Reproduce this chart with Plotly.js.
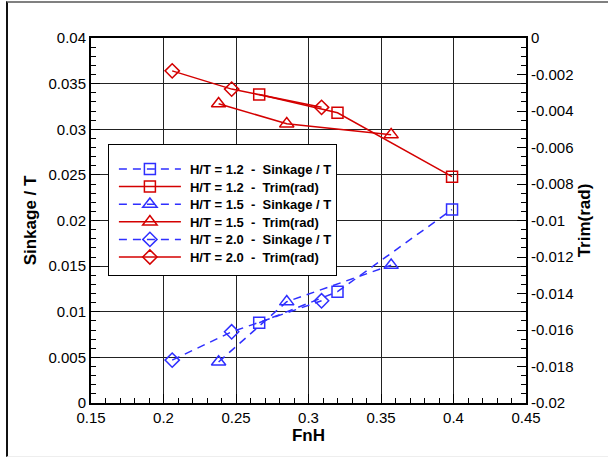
<!DOCTYPE html>
<html>
<head>
<meta charset="utf-8">
<script src="https://cdn.plot.ly/plotly-3.0.1.min.js"></script>
<style>
  html, body { margin: 0; padding: 0; background: #fff; }
  #wrap { position: relative; width: 608px; height: 458px; }
  #chart { position: absolute; left: 0; top: 0; width: 608px; height: 458px; }
  #frame {
    position: absolute; left: 6px; top: 1px; right: 0; bottom: 1px;
    border-top: 2px solid #808080; border-left: 2px solid #111;
    border-bottom: 1px solid #eeeeee; pointer-events: none;
  }
</style>
</head>
<body>
<div id="wrap">
  <div id="chart"></div>
  <div id="frame"></div>
</div>
<script>
// Froude depth number for each run
const fnh12 = [0.266, 0.320, 0.399];
const fnh15 = [0.238, 0.285, 0.357];
const fnh20 = [0.206, 0.247, 0.309];

// Non-dimensional sinkage (left axis)
const sink12 = [0.0088, 0.0122, 0.0212];
const sink15 = [0.0045, 0.0111, 0.0151];
const sink20 = [0.0047, 0.0078, 0.0112];

// Trim in radians (right axis)
const trim12 = [-0.0031, -0.0041, -0.0076];
const trim15 = [-0.0036, -0.0047, -0.0053];
const trim20 = [-0.0018, -0.0028, -0.0038];

// Right-axis tick labels (plain hyphen minus)
const trimTicks = [0, -0.002, -0.004, -0.006, -0.008, -0.01, -0.012, -0.014, -0.016, -0.018, -0.02];
const trimTickText = ['0', '-0.002', '-0.004', '-0.006', '-0.008', '-0.01', '-0.012', '-0.014', '-0.016', '-0.018', '-0.02'];

const BLUE = '#2f2fff';
const RED = '#d40000';
const S = '\u00a0';

function label(ht, what) {
  return 'H/T = ' + ht + S + S + '-' + S + S + what;
}

function sinkTrace(x, y, ht, symbol, size) {
  return {
    x: x, y: y, type: 'scatter', mode: 'lines+markers', yaxis: 'y',
    name: label(ht, 'Sinkage / T'),
    line: { color: BLUE, width: 1.5, dash: '8px,6px' },
    marker: { symbol: symbol, size: size, color: BLUE, line: { color: BLUE, width: 1.5 } }
  };
}
function trimTrace(x, y, ht, symbol, size) {
  return {
    x: x, y: y, type: 'scatter', mode: 'lines+markers', yaxis: 'y2',
    name: label(ht, 'Trim(rad)'),
    line: { color: RED, width: 1.5 },
    marker: { symbol: symbol, size: size, color: RED, line: { color: RED, width: 1.5 } }
  };
}

const data = [
  sinkTrace(fnh12, sink12, '1.2', 'square-open', 11),
  trimTrace(fnh12, trim12, '1.2', 'square-open', 11),
  sinkTrace(fnh15, sink15, '1.5', 'triangle-up-open', 12.5),
  trimTrace(fnh15, trim15, '1.5', 'triangle-up-open', 12.5),
  sinkTrace(fnh20, sink20, '2.0', 'diamond-open', 11),
  trimTrace(fnh20, trim20, '2.0', 'diamond-open', 11)
];

const FAMILY = 'Arial, "Liberation Sans", sans-serif';
const tickFont = { family: FAMILY, size: 15, color: '#000' };
const titleFont = { family: FAMILY, size: 17, color: '#000', weight: 'bold' };

const layout = {
  width: 608, height: 458,
  margin: { l: 91, r: 82, t: 38, b: 55, pad: 0 },
  paper_bgcolor: '#fff', plot_bgcolor: '#fff',
  showlegend: true,
  legend: {
    x: 0.040, y: 0.712, xanchor: 'left', yanchor: 'top',
    bgcolor: '#fff', bordercolor: '#000', borderwidth: 1,
    font: { family: FAMILY, size: 13, color: '#000', weight: 'bold' },
    itemwidth: 70, tracegroupgap: 0
  },
  xaxis: {
    range: [0.15, 0.45], dtick: 0.05, tick0: 0.15,
    ticks: 'inside', ticklen: 9, tickwidth: 1, tickcolor: '#000',
    minor: { dtick: 0.01, ticks: 'inside', ticklen: 5, tickcolor: '#000', showgrid: false },
    showgrid: true, gridcolor: '#222', gridwidth: 1,
    showline: true, linecolor: '#000', linewidth: 2, mirror: true,
    zeroline: false, tickfont: tickFont,
    title: { text: 'FnH', font: titleFont, standoff: 3 }
  },
  yaxis: {
    range: [0, 0.04], dtick: 0.005, tick0: 0,
    ticks: 'inside', ticklen: 9, tickwidth: 1, tickcolor: '#000',
    minor: { dtick: 0.001, ticks: 'inside', ticklen: 5, tickcolor: '#000', showgrid: false },
    showgrid: true, gridcolor: '#222', gridwidth: 1,
    showline: true, linecolor: '#000', linewidth: 2, mirror: true,
    zeroline: false, tickfont: tickFont,
    title: { text: 'Sinkage / T', font: titleFont, standoff: 8 }
  },
  yaxis2: {
    overlaying: 'y', side: 'right',
    range: [-0.02, 0],
    tickvals: trimTicks, ticktext: trimTickText,
    ticks: 'inside', ticklen: 9, tickwidth: 1, tickcolor: '#000',
    minor: { dtick: 0.0005, ticks: 'inside', ticklen: 5, tickcolor: '#000', showgrid: false },
    showgrid: false, showline: true, linecolor: '#000', linewidth: 2,
    zeroline: false, tickfont: tickFont,
    title: { text: 'Trim(rad)', font: titleFont, standoff: 6 }
  }
};

// Legend box geometry (page pixels): box top/height, first row, row pitch
const LEG_TOP = 144, LEG_H = 131, ROW0 = 169, ROW_STEP = 17.6;

// Lengthen the legend line samples, centre the symbol on them and tighten rows
function styleLegend(gd) {
  const bg = gd.querySelector('.legend rect.bg');
  if (!bg) return;
  const box = bg.getBoundingClientRect();
  const left = box.left;
  // stretch the frame so its top and height follow the layout above
  const by = parseFloat(bg.getAttribute('y') || '0');
  bg.setAttribute('y', by + (LEG_TOP - box.top));
  bg.setAttribute('height', LEG_H);
  gd.querySelectorAll('.legend .traces').forEach(function (tr, i) {
    const ctm = tr.getScreenCTM();
    const off = ctm.e - left;
    const line = tr.querySelector('.legendlines path');
    if (line) line.setAttribute('d', 'M' + (10 - off) + ',0h62');
    tr.querySelectorAll('.legendpoints path.scatterpts').forEach(function (p) {
      p.setAttribute('transform', 'translate(' + (41 - off) + ',0)');
    });
    const txt = tr.querySelector('text.legendtext');
    if (txt) txt.setAttribute('x', 81 - off);
    const m = /translate\(\s*([-\d.e]+)[ ,]+([-\d.e]+)\s*\)/.exec(tr.getAttribute('transform') || '');
    if (m) {
      const tx = parseFloat(m[1]), ty = parseFloat(m[2]);
      const dy = (ROW0 + i * ROW_STEP) - ctm.f;
      tr.setAttribute('transform', 'translate(' + tx + ',' + (ty + dy) + ')');
    }
  });
}

Plotly.newPlot('chart', data, layout, { displayModeBar: false, staticPlot: true })
  .then(styleLegend);
</script>
</body>
</html>
